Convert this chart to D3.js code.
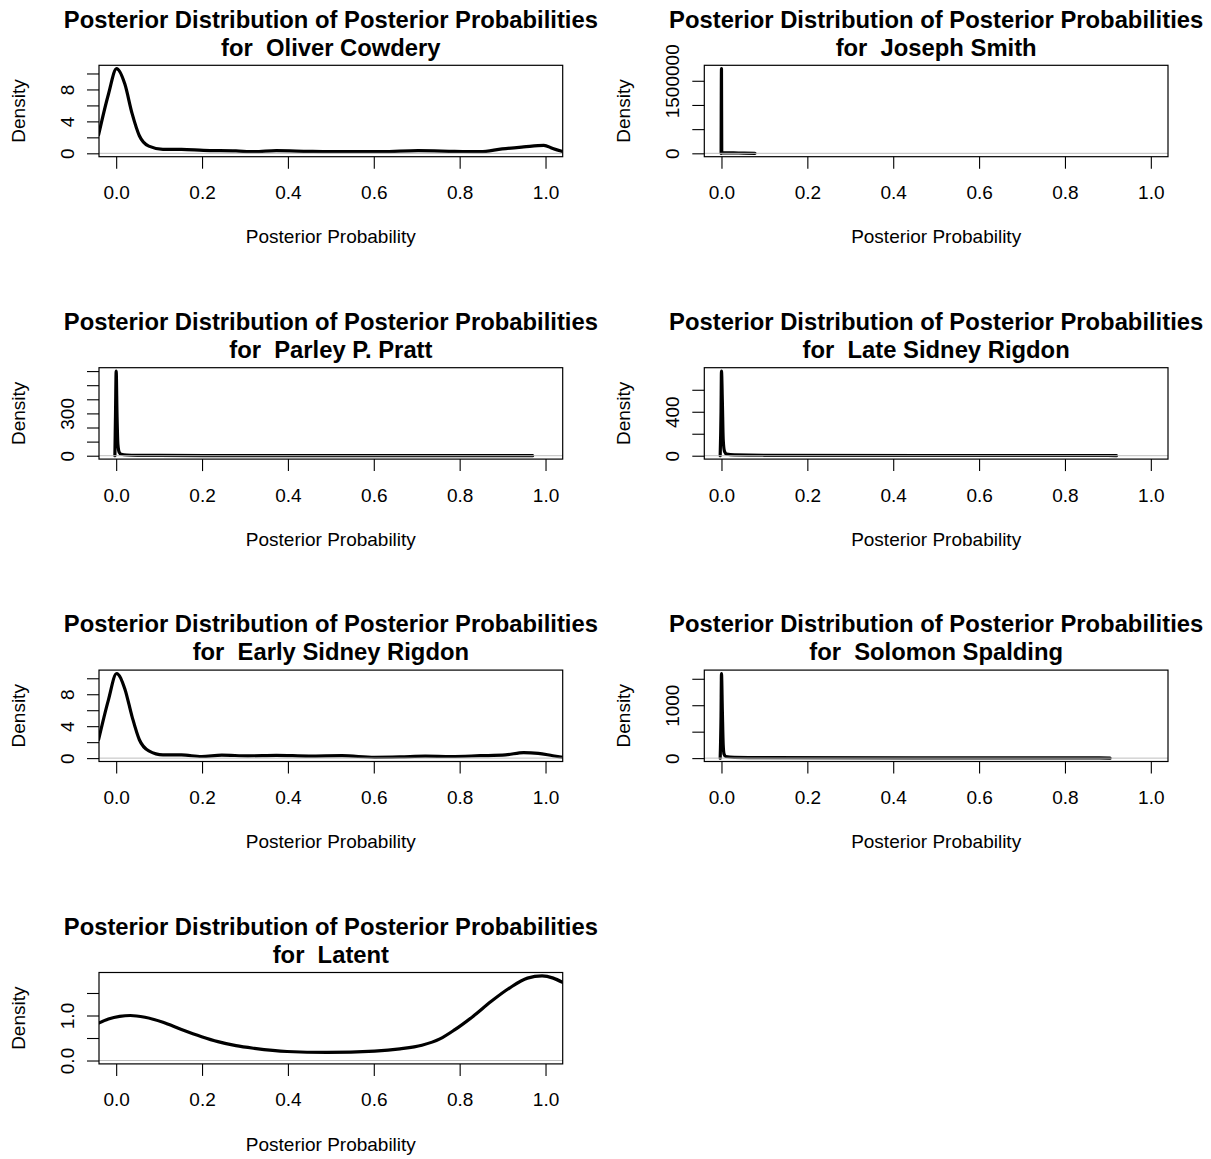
<!DOCTYPE html>
<html>
<head>
<meta charset="utf-8">
<script src="https://cdn.jsdelivr.net/npm/d3@7"></script>
<style>
  body { margin: 0; background: #ffffff; }
  svg { display: block; }
  text { font-family: "Liberation Sans", Arial, Helvetica, sans-serif; fill: #000; }
</style>
</head>
<body>
<svg id="chart" width="1211" height="1159"></svg>
<script>
// ---- data -------------------------------------------------------------
const authors = ["Oliver Cowdery", "Joseph Smith", "Parley P. Pratt", "Late Sidney Rigdon",
                 "Early Sidney Rigdon", "Solomon Spalding", "Latent"];
const xTicks = [0, 0.2, 0.4, 0.6, 0.8, 1.0];

// kernel density estimates (x grid, density)
const oliverX = [-0.041, -0.018, 0.001, 0.020, 0.037, 0.054, 0.076, 0.109, 0.152, 0.203, 0.279, 0.322,
                 0.373, 0.449, 0.534, 0.619, 0.703, 0.788, 0.848, 0.899, 0.949, 0.996, 1.017, 1.041];
const oliverD = [2.3, 7.4, 10.6, 8.7, 5.0, 2.2, 0.9, 0.5, 0.5, 0.37, 0.3, 0.2,
                 0.33, 0.25, 0.2, 0.2, 0.33, 0.25, 0.2, 0.55, 0.8, 1.0, 0.6, 0.2];

const josephX = [-0.0008, 0.0, 0.0006, 0.002, 0.01, 0.04, 0.078];
const josephD = [0, 1750000, 20000, 12000, 9000, 6000, 0];

const parleyX = [-0.003, -0.0015, 0.0, 0.002, 0.004, 0.007, 0.012, 0.025, 0.05, 0.1, 0.3, 0.6, 0.9, 0.97];
const parleyD = [0, 300, 600, 280, 80, 25, 10, 5, 3, 2, 1, 1, 1, 0];

const lateSidneyX = [-0.003, -0.001, 0.0, 0.002, 0.004, 0.007, 0.012, 0.03, 0.1, 0.5, 0.9, 0.92];
const lateSidneyD = [0, 400, 770, 500, 150, 40, 15, 8, 4, 2, 2, 0];

const earlySidneyX = [-0.041, -0.018, 0.001, 0.020, 0.037, 0.054, 0.076, 0.109, 0.152, 0.199, 0.246, 0.307,
                      0.373, 0.449, 0.526, 0.602, 0.661, 0.72, 0.78, 0.848, 0.907, 0.949, 0.983, 1.017, 1.041];
const earlySidneyD = [2.3, 7.3, 10.6, 8.7, 5.2, 2.3, 0.9, 0.4, 0.4, 0.2, 0.37, 0.28,
                      0.35, 0.25, 0.3, 0.1, 0.15, 0.25, 0.2, 0.3, 0.4, 0.7, 0.6, 0.3, 0.1];

const solomonX = [-0.003, -0.001, 0.0, 0.002, 0.004, 0.006, 0.01, 0.03, 0.1, 0.5, 0.88, 0.905];
const solomonD = [0, 800, 1600, 900, 250, 75, 30, 15, 8, 5, 5, 0];

const latentX = [-0.041, -0.018, 0.008, 0.033, 0.067, 0.109, 0.152, 0.199, 0.237, 0.279, 0.322, 0.398,
                 0.491, 0.602, 0.661, 0.712, 0.754, 0.788, 0.831, 0.873, 0.916, 0.958, 0.992, 1.018, 1.041];
const latentD = [0.83, 0.92, 0.98, 1.0, 0.96, 0.85, 0.69, 0.53, 0.42, 0.33, 0.27, 0.2,
                 0.18, 0.21, 0.26, 0.34, 0.48, 0.68, 0.98, 1.31, 1.61, 1.83, 1.88, 1.83, 1.73];

// y-axis ticks and their printed labels ("" = tick only)
const oliverYTicks = [0, 2, 4, 6, 8, 10];
const oliverYLabels = ["0", "", "4", "", "8", ""];
const josephYTicks = [0, 500000, 1000000, 1500000];
const josephYLabels = ["0", "", "", "1500000"];
const parleyYTicks = [0, 100, 200, 300, 400, 500, 600];
const parleyYLabels = ["0", "", "", "300", "", "", ""];
const lateSidneyYTicks = [0, 200, 400, 600];
const lateSidneyYLabels = ["0", "", "400", ""];
const earlySidneyYTicks = [0, 2, 4, 6, 8, 10];
const earlySidneyYLabels = ["0", "", "4", "", "8", ""];
const solomonYTicks = [0, 500, 1000, 1500];
const solomonYLabels = ["0", "", "1000", ""];
const latentYTicks = [0, 0.5, 1.0, 1.5];
const latentYLabels = ["0.0", "", "1.0", ""];

const panels = [
  { x: oliverX, d: oliverD, ticks: oliverYTicks, labels: oliverYLabels },
  { x: josephX, d: josephD, ticks: josephYTicks, labels: josephYLabels },
  { x: parleyX, d: parleyD, ticks: parleyYTicks, labels: parleyYLabels },
  { x: lateSidneyX, d: lateSidneyD, ticks: lateSidneyYTicks, labels: lateSidneyYLabels },
  { x: earlySidneyX, d: earlySidneyD, ticks: earlySidneyYTicks, labels: earlySidneyYLabels },
  { x: solomonX, d: solomonD, ticks: solomonYTicks, labels: solomonYLabels },
  { x: latentX, d: latentD, ticks: latentYTicks, labels: latentYLabels }
];

// ---- layout -----------------------------------------------------------
const box = { left: 99, width: 463.7, top: 65.3, height: 91.4 };
const colStep = 605.3, rowStep = 302.4;
const tickLen = 12;
const axisFont = 19;
const titleFont = 23.8;

const svg = d3.select("#chart");

panels.forEach((p, i) => {
  const row = Math.floor(i / 2), col = i % 2;
  const x0 = box.left + col * colStep;
  const y0 = box.top + row * rowStep;
  const g = svg.append("g").attr("transform", `translate(${x0},${y0})`);

  const x = d3.scaleLinear().domain([-0.04, 1.04]).range([0, box.width]);
  const ymax = d3.max(p.d);
  const y = d3.scaleLinear().domain([-0.04 * ymax, 1.04 * ymax]).range([box.height, 0]);

  // clip region = plotting box
  const clipId = "clip" + i;
  g.append("clipPath").attr("id", clipId)
    .append("rect").attr("width", box.width).attr("height", box.height);

  // density curve
  const pts = p.x.map((v, k) => [v, p.d[k]]);
  const line = d3.line().x(q => x(q[0])).y(q => y(q[1])).curve(d3.curveMonotoneX);
  g.append("path")
    .attr("clip-path", `url(#${clipId})`)
    .attr("d", line(pts))
    .attr("fill", "none")
    .attr("stroke", "#000")
    .attr("stroke-width", 3.2)
    .attr("stroke-linejoin", "round")
    .attr("stroke-linecap", "round");

  // zero reference line
  g.append("line")
    .attr("x1", 0).attr("x2", box.width)
    .attr("y1", y(0)).attr("y2", y(0))
    .attr("stroke", "#bebebe").attr("stroke-width", 1);

  // x axis
  const xAxis = d3.axisBottom(x).tickValues(xTicks).tickFormat(d3.format(".1f"))
    .tickSize(tickLen).tickSizeOuter(0).tickPadding(17);
  const gx = g.append("g").attr("transform", `translate(0,${box.height})`).call(xAxis);
  gx.select(".domain").remove();
  gx.selectAll("line").attr("stroke", "#000").attr("stroke-width", 1.1);
  gx.selectAll("text").attr("font-size", axisFont).attr("font-family", null);

  // y axis with labels parallel to the axis
  const yAxis = d3.axisLeft(y).tickValues(p.ticks)
    .tickFormat((v, k) => p.labels[k]).tickSize(tickLen).tickSizeOuter(0);
  const gy = g.append("g").call(yAxis);
  gy.select(".domain").remove();
  gy.selectAll("line").attr("stroke", "#000").attr("stroke-width", 1.1);
  gy.selectAll("text")
    .attr("font-size", axisFont).attr("font-family", null)
    .attr("x", null).attr("dy", null)
    .attr("text-anchor", "middle")
    .attr("transform", "translate(-25.5,0) rotate(-90)");

  // plot frame
  g.append("rect").attr("width", box.width).attr("height", box.height)
    .attr("fill", "none").attr("stroke", "#000").attr("stroke-width", 1.2);

  // titles and axis labels
  g.append("text").attr("x", box.width / 2).attr("y", -37.7)
    .attr("text-anchor", "middle").attr("font-size", titleFont).attr("font-weight", "bold")
    .text("Posterior Distribution of Posterior Probabilities");
  g.append("text").attr("x", box.width / 2).attr("y", -9.7)
    .attr("text-anchor", "middle").attr("font-size", titleFont).attr("font-weight", "bold")
    .attr("xml:space", "preserve").style("white-space", "pre")
    .text("for  " + authors[i]);

  g.append("text").attr("x", box.width / 2).attr("y", box.height + 86.8)
    .attr("text-anchor", "middle").attr("font-size", axisFont)
    .text("Posterior Probability");
  g.append("text")
    .attr("transform", `translate(-74.2,${box.height / 2}) rotate(-90)`)
    .attr("text-anchor", "middle").attr("font-size", axisFont)
    .text("Density");
});
</script>
</body>
</html>
